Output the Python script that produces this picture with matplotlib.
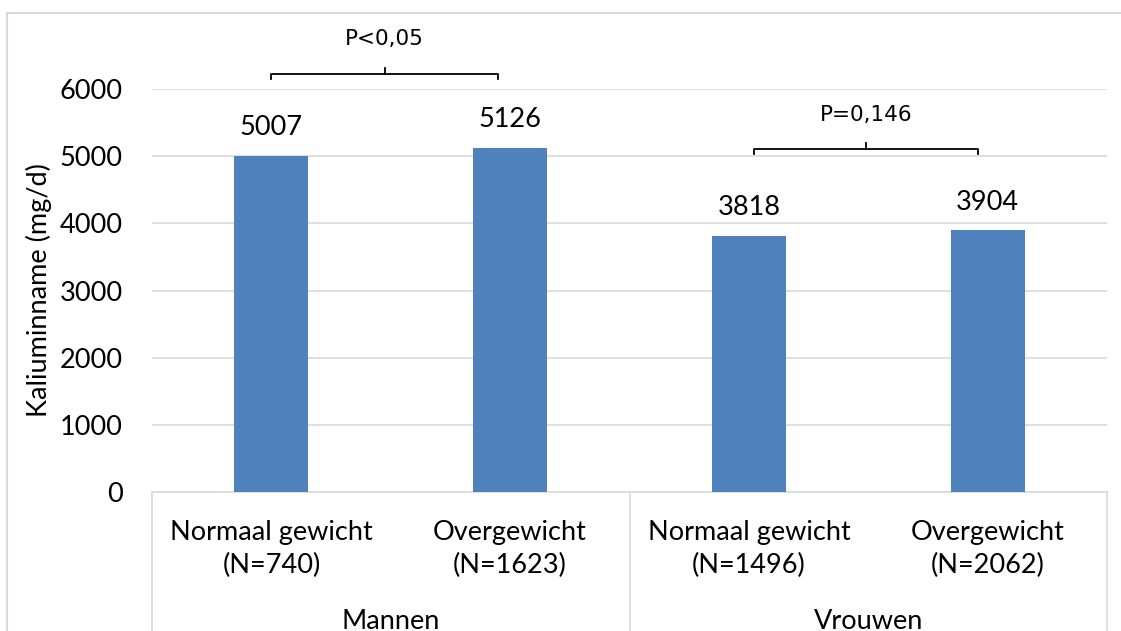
import matplotlib.pyplot as plt
import matplotlib.transforms as mtransforms
from matplotlib.patches import Rectangle

# data
categories = ["Normaal gewicht\n(N=740)", "Overgewicht\n(N=1623)",
              "Normaal gewicht\n(N=1496)", "Overgewicht\n(N=2062)"]
groups = ["Mannen", "Vrouwen"]
values = [5007, 5126, 3818, 3904]
p_labels = ["P<0,05", "P=0,146"]
y_ticks = [0, 1000, 2000, 3000, 4000, 5000, 6000]

bar_color = "#4F81BD"
grid_color = "#D9D9D9"
font = "Lato"
fs = 19.5

fig = plt.figure(figsize=(11.21, 6.31), dpi=100)
ax = fig.add_axes([152 / 1121, 1 - 492 / 631, (1107 - 152) / 1121, (492 - 89) / 631])

x = list(range(len(values)))
ax.bar(x, values, width=0.31, color=bar_color, zorder=3)
ax.set_xlim(-0.5, len(values) - 0.5)
ax.set_ylim(0, 6000)
ax.set_yticks(y_ticks)
ax.set_yticklabels([str(t) for t in y_ticks], fontsize=fs, family=font)
ax.grid(axis="y", color=grid_color, linewidth=1.2, zorder=0)
ax.tick_params(axis="y", length=0, pad=21)
ax.tick_params(axis="x", length=0, pad=20)
ax.set_xticks(x)
ax.set_xticklabels(categories, fontsize=fs, family=font, linespacing=1.4, va="top")
for s in ["top", "right", "left"]:
    ax.spines[s].set_visible(False)
ax.spines["bottom"].set_color(grid_color)
ax.spines["bottom"].set_linewidth(1.2)

ax.set_ylabel("Kaliuminname (mg/d)", fontsize=fs, family=font)
ax.yaxis.set_label_coords(-0.105, 0.5)

# value labels
for xi, v in zip(x, values):
    ax.annotate(str(v), (xi, v), xytext=(0, 20), textcoords="offset points",
                ha="center", va="center", fontsize=fs, family=font)

# group boxes below the axis
trans = mtransforms.blended_transform_factory(ax.transData, ax.transAxes)
for xv in [-0.5, 1.5, 3.5]:
    ax.plot([xv, xv], [0, -0.4], color=grid_color, linewidth=1.2,
            transform=trans, clip_on=False)
for gi, g in enumerate(groups):
    ax.text(gi * 2 + 0.5, -0.322, g, transform=trans, ha="center", va="center",
            fontsize=fs, family=font)

# significance brackets
brackets = [(0.0, 0.95, 6230), (2.02, 2.96, 5100)]
for (x0, x1, yb), lab in zip(brackets, p_labels):
    ax.plot([x0, x0, x1, x1], [yb - 75, yb, yb, yb - 75], color="black",
            linewidth=1.3, clip_on=False, zorder=4)
    xm = (x0 + x1) / 2
    ax.plot([xm, xm], [yb, yb + 90], color="black", linewidth=1.3, clip_on=False)
    ax.text(xm, yb + 520, lab, ha="center", va="center", fontsize=15.5,
            family="DejaVu Sans")

# light border around the chart
fig.patches.append(Rectangle((7 / 1121, -0.1), 1.1, 1.1 - 13 / 631,
                             transform=fig.transFigure, fill=False,
                             edgecolor=grid_color, linewidth=1.5))

fig.savefig("out.png", dpi=100)
